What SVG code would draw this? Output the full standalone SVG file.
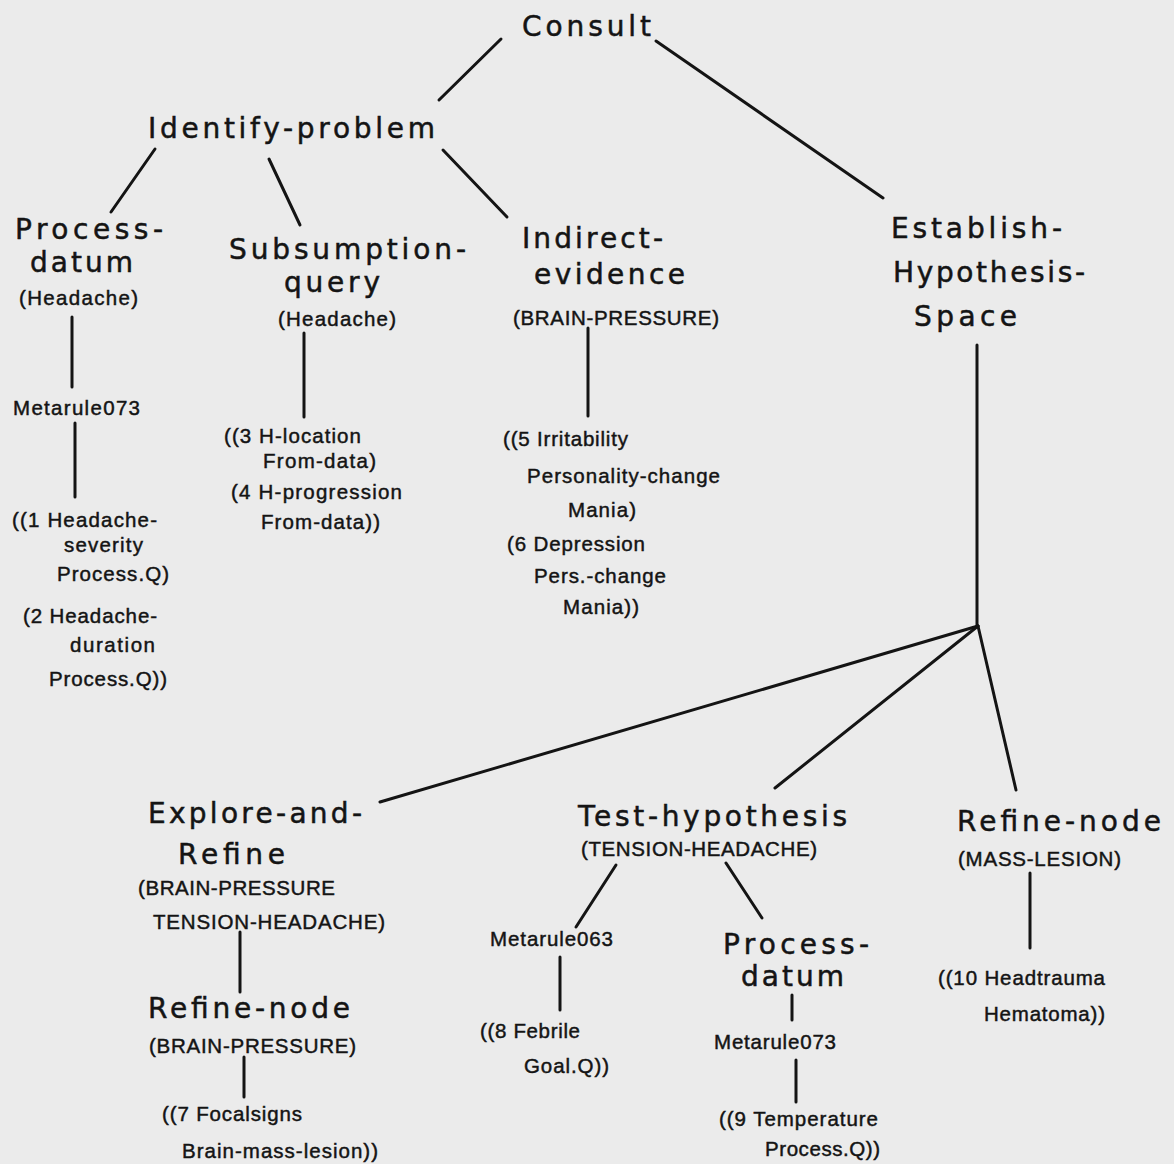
<svg xmlns="http://www.w3.org/2000/svg" width="1174" height="1164" viewBox="0 0 1174 1164">
<style>
.h{font-family:"DejaVu Sans","Liberation Sans",sans-serif;font-size:28px;fill:#141414;stroke:#141414;stroke-width:0.5}
.s{font-family:"Liberation Sans","DejaVu Sans",sans-serif;font-size:20.5px;fill:#141414;stroke:#141414;stroke-width:0.45}
.c line{stroke:#141414;stroke-width:3;stroke-linecap:round;fill:none}
</style>
<rect x="0" y="0" width="1174" height="1164" fill="#ebebeb"/>
<g id="connectors" class="c">
<line x1="501" y1="39" x2="439" y2="100"/>
<line x1="656" y1="41" x2="883" y2="198"/>
<line x1="155" y1="149" x2="111" y2="212"/>
<line x1="269" y1="159" x2="300" y2="225"/>
<line x1="443" y1="150" x2="507" y2="217"/>
<line x1="72" y1="317" x2="72" y2="387"/>
<line x1="75" y1="423" x2="75" y2="497"/>
<line x1="304" y1="333" x2="304" y2="417"/>
<line x1="588" y1="328" x2="588" y2="416"/>
<line x1="977" y1="345" x2="977" y2="626"/>
<line x1="978" y1="626" x2="380" y2="802"/>
<line x1="978" y1="626" x2="775" y2="788"/>
<line x1="978" y1="626" x2="1016" y2="790"/>
<line x1="240" y1="932" x2="240" y2="992"/>
<line x1="244" y1="1057" x2="244" y2="1097"/>
<line x1="616" y1="865" x2="576" y2="927"/>
<line x1="726" y1="863" x2="762" y2="918"/>
<line x1="560" y1="957" x2="560" y2="1010"/>
<line x1="792" y1="995" x2="792" y2="1020"/>
<line x1="796" y1="1060" x2="796" y2="1102"/>
<line x1="1030" y1="873" x2="1030" y2="948"/>
</g>
<g id="consult"><text class="h" x="522" y="36" font-size="30" textLength="129" lengthAdjust="spacing">Consult</text></g>
<g id="identify-problem"><text class="h" x="148" y="138" textLength="287" lengthAdjust="spacing">Identify-problem</text></g>
<g id="process-datum-1">
<text class="h" x="15" y="239" textLength="148" lengthAdjust="spacing">Process-</text>
<text class="h" x="30" y="272" textLength="103" lengthAdjust="spacing">datum</text>
<text class="s" x="19" y="305" textLength="119" lengthAdjust="spacing">(Headache)</text>
</g>
<g id="metarule073-1"><text class="s" x="13" y="415" textLength="127" lengthAdjust="spacing">Metarule073</text></g>
<g id="list-1-2">
<text class="s" x="12" y="527" textLength="145" lengthAdjust="spacing">((1 Headache-</text>
<text class="s" x="64" y="552" textLength="79" lengthAdjust="spacing">severity</text>
<text class="s" x="57" y="581" textLength="112" lengthAdjust="spacing">Process.Q)</text>
<text class="s" x="23" y="623" textLength="134" lengthAdjust="spacing">(2 Headache-</text>
<text class="s" x="70" y="652" textLength="85" lengthAdjust="spacing">duration</text>
<text class="s" x="49" y="686" textLength="118" lengthAdjust="spacing">Process.Q))</text>
</g>
<g id="subsumption-query">
<text class="h" x="229" y="259" textLength="237" lengthAdjust="spacing">Subsumption-</text>
<text class="h" x="284" y="292" font-size="26" textLength="96" lengthAdjust="spacing">query</text>
<text class="s" x="278" y="326" textLength="118" lengthAdjust="spacing">(Headache)</text>
</g>
<g id="list-3-4">
<text class="s" x="224" y="443" textLength="137" lengthAdjust="spacing">((3 H-location</text>
<text class="s" x="263" y="468" textLength="113" lengthAdjust="spacing">From-data)</text>
<text class="s" x="231" y="499" textLength="171" lengthAdjust="spacing">(4 H-progression</text>
<text class="s" x="261" y="529" textLength="119" lengthAdjust="spacing">From-data))</text>
</g>
<g id="indirect-evidence">
<text class="h" x="522" y="248" textLength="141" lengthAdjust="spacing">Indirect-</text>
<text class="h" x="534" y="284" textLength="151" lengthAdjust="spacing">evidence</text>
<text class="s" x="513" y="325" textLength="206" lengthAdjust="spacing">(BRAIN-PRESSURE)</text>
</g>
<g id="list-5-6">
<text class="s" x="503" y="446" textLength="125" lengthAdjust="spacing">((5 Irritability</text>
<text class="s" x="527" y="483" textLength="193" lengthAdjust="spacing">Personality-change</text>
<text class="s" x="568" y="517" textLength="68" lengthAdjust="spacing">Mania)</text>
<text class="s" x="507" y="551" textLength="138" lengthAdjust="spacing">(6 Depression</text>
<text class="s" x="534" y="583" textLength="132" lengthAdjust="spacing">Pers.-change</text>
<text class="s" x="563" y="614" textLength="76" lengthAdjust="spacing">Mania))</text>
</g>
<g id="establish-hypothesis-space">
<text class="h" x="891" y="238" textLength="171" lengthAdjust="spacing">Establish-</text>
<text class="h" x="893" y="282" textLength="192" lengthAdjust="spacing">Hypothesis-</text>
<text class="h" x="914" y="326" textLength="103" lengthAdjust="spacing">Space</text>
</g>
<g id="explore-and-refine">
<text class="h" x="148" y="823" textLength="214" lengthAdjust="spacing">Explore-and-</text>
<text class="h" x="178" y="864" textLength="107" lengthAdjust="spacing">Refine</text>
<text class="s" x="138" y="895" textLength="197" lengthAdjust="spacing">(BRAIN-PRESSURE</text>
<text class="s" x="153" y="929" textLength="232" lengthAdjust="spacing">TENSION-HEADACHE)</text>
</g>
<g id="refine-node-1">
<text class="h" x="148" y="1018" textLength="202" lengthAdjust="spacing">Refine-node</text>
<text class="s" x="149" y="1053" textLength="207" lengthAdjust="spacing">(BRAIN-PRESSURE)</text>
</g>
<g id="list-7">
<text class="s" x="162" y="1121" textLength="140" lengthAdjust="spacing">((7 Focalsigns</text>
<text class="s" x="182" y="1158" textLength="196" lengthAdjust="spacing">Brain-mass-lesion))</text>
</g>
<g id="test-hypothesis">
<text class="h" x="578" y="826" textLength="269" lengthAdjust="spacing">Test-hypothesis</text>
<text class="s" x="581" y="856" textLength="236" lengthAdjust="spacing">(TENSION-HEADACHE)</text>
</g>
<g id="metarule063"><text class="s" x="490" y="946" textLength="123" lengthAdjust="spacing">Metarule063</text></g>
<g id="list-8">
<text class="s" x="480" y="1038" textLength="100" lengthAdjust="spacing">((8 Febrile</text>
<text class="s" x="524" y="1073" textLength="85" lengthAdjust="spacing">Goal.Q))</text>
</g>
<g id="process-datum-2">
<text class="h" x="723" y="954" textLength="146" lengthAdjust="spacing">Process-</text>
<text class="h" x="741" y="986" textLength="103" lengthAdjust="spacing">datum</text>
</g>
<g id="metarule073-2"><text class="s" x="714" y="1049" textLength="122" lengthAdjust="spacing">Metarule073</text></g>
<g id="list-9">
<text class="s" x="719" y="1126" textLength="159" lengthAdjust="spacing">((9 Temperature</text>
<text class="s" x="765" y="1156" textLength="115" lengthAdjust="spacing">Process.Q))</text>
</g>
<g id="refine-node-2">
<text class="h" x="957" y="831" textLength="204" lengthAdjust="spacing">Refine-node</text>
<text class="s" x="958" y="866" textLength="163" lengthAdjust="spacing">(MASS-LESION)</text>
</g>
<g id="list-10">
<text class="s" x="938" y="985" textLength="167" lengthAdjust="spacing">((10 Headtrauma</text>
<text class="s" x="984" y="1021" textLength="121" lengthAdjust="spacing">Hematoma))</text>
</g>
</svg>
